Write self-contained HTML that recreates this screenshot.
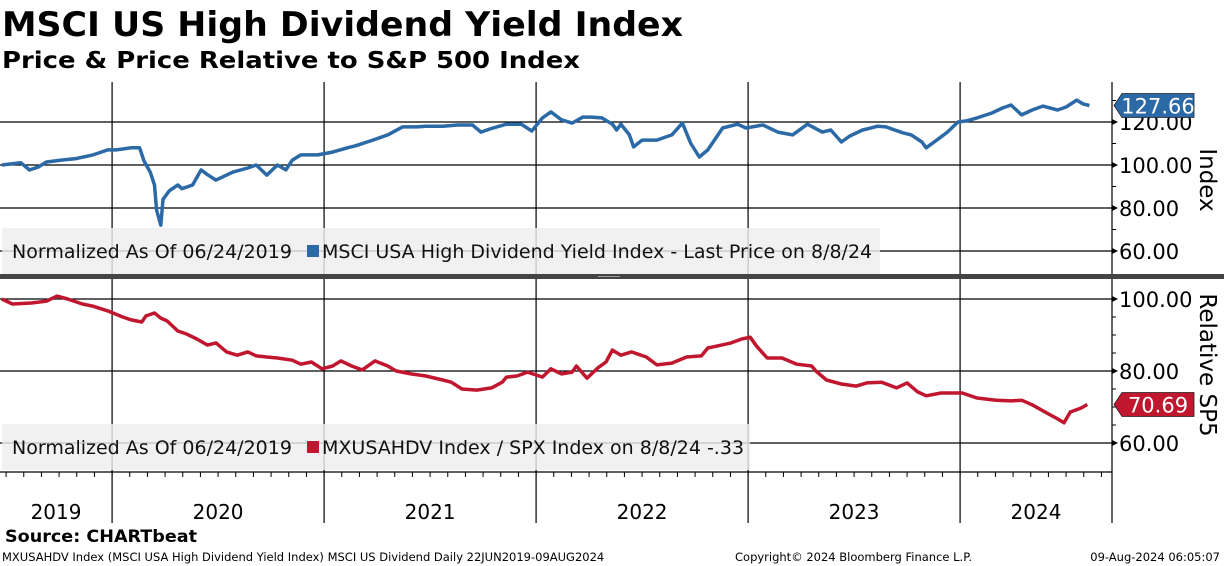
<!DOCTYPE html>
<html><head><meta charset="utf-8"><style>
body{margin:0;width:1224px;height:566px;background:#fff;overflow:hidden;font-family:"Liberation Sans",sans-serif}
svg{position:absolute;left:0;top:0}
text{font-family:"DejaVu Sans","Liberation Sans",sans-serif}
</style></head><body>
<svg width="1224" height="566" id="c"></svg>
<script>
const topDates=[2019.48,2019.57,2019.61,2019.65,2019.69,2019.76,2019.83,2019.91,2019.98,2020.02,2020.09,2020.13,2020.15,2020.18,2020.20,2020.21,2020.23,2020.24,2020.27,2020.31,2020.33,2020.38,2020.42,2020.45,2020.49,2020.57,2020.64,2020.68,2020.73,2020.78,2020.82,2020.85,2020.89,2020.97,2021.04,2021.11,2021.15,2021.23,2021.30,2021.37,2021.44,2021.48,2021.56,2021.63,2021.70,2021.74,2021.79,2021.86,2021.93,2021.98,2022.03,2022.07,2022.12,2022.17,2022.22,2022.26,2022.31,2022.36,2022.38,2022.40,2022.44,2022.46,2022.50,2022.57,2022.64,2022.69,2022.73,2022.77,2022.81,2022.88,2022.95,2022.99,2023.07,2023.14,2023.21,2023.28,2023.35,2023.39,2023.44,2023.48,2023.54,2023.61,2023.65,2023.73,2023.77,2023.82,2023.84,2023.89,2023.94,2023.99,2024.03,2024.08,2024.15,2024.20,2024.24,2024.29,2024.34,2024.39,2024.46,2024.50,2024.55,2024.58,2024.61];
const topValues=[100,101,97.7,99,101.4,102.3,103,104.7,107,107,108,108,102,96.7,90.7,79,72,84,88,90.7,89,90.7,97.7,95.5,93,96.7,98.6,100,95.3,100,97.7,102.3,104.7,104.7,106,108,109,111.6,114,117.7,117.7,118,118,118.6,118.6,115.3,117,119,119,115.8,121.9,124.7,121,119.5,122.3,122.3,121.9,119,116.3,119,114,108.4,111.6,111.6,114,119.5,110,103.7,107,117.2,119,117.2,118.6,115.3,114,119,115.3,116.3,110.7,113.5,116.3,118,117.7,115,114,110.7,108,111.6,115.3,120,120.5,121.9,124.2,126.5,127.9,123.3,125.6,127.4,125.6,127,130.2,128.4,127.66];
const relDates=[2019.48,2019.53,2019.62,2019.69,2019.74,2019.79,2019.86,2019.91,2019.98,2020.05,2020.09,2020.14,2020.16,2020.20,2020.23,2020.26,2020.31,2020.35,2020.40,2020.45,2020.49,2020.54,2020.59,2020.64,2020.68,2020.73,2020.78,2020.85,2020.89,2020.94,2020.99,2021.04,2021.08,2021.13,2021.18,2021.24,2021.30,2021.34,2021.41,2021.48,2021.56,2021.60,2021.65,2021.72,2021.79,2021.84,2021.86,2021.91,2021.96,2022.03,2022.07,2022.12,2022.17,2022.19,2022.24,2022.29,2022.33,2022.36,2022.40,2022.45,2022.52,2022.57,2022.64,2022.71,2022.78,2022.81,2022.85,2022.92,2022.97,2023.01,2023.04,2023.09,2023.16,2023.23,2023.30,2023.32,2023.37,2023.44,2023.51,2023.56,2023.63,2023.70,2023.75,2023.80,2023.84,2023.91,2024.01,2024.08,2024.17,2024.24,2024.29,2024.34,2024.41,2024.46,2024.49,2024.52,2024.57,2024.60];
const relValues=[100,98.6,98.9,99.4,100.8,100,98.6,98,96.7,95,94.2,93.6,95.3,96.1,94.7,93.9,91.1,90.3,88.9,87.2,87.8,85.3,84.4,85.3,84.2,83.9,83.6,83,81.9,82.5,80.6,81.4,82.8,81.4,80.3,82.8,81.4,80,79.2,78.6,77.5,76.9,75,74.7,75.3,76.9,78.3,78.6,79.7,78.3,80.6,79.2,79.7,81.4,78,80.8,82.5,85.8,84.4,85.3,83.9,81.7,82.2,83.9,84.2,86.4,86.9,87.8,88.9,89.4,86.9,83.6,83.6,81.9,81.4,80,77.5,76.4,75.8,76.7,76.9,75.3,76.7,74.2,73.1,73.9,73.9,72.5,71.9,71.7,71.9,70.6,68.3,66.7,65.6,68.6,69.7,70.69];
const years=[2019,2020,2021,2022,2023,2024];
const topTicks=[120,100,80,60];
const relTicks=[100,80,60];

const NS='http://www.w3.org/2000/svg';
const svg=document.getElementById('c');
function el(t,a,p){const e=document.createElementNS(NS,t);for(const k in a)e.setAttribute(k,a[k]);(p||svg).appendChild(e);return e;}
const xOf=t=>1+(t-2019.476)*212;
const yTop=v=>165-(v-100)*2.15;
const yRel=v=>299-(v-100)*3.6;
const R=1112;

let e=el('text',{x:2,y:36,'font-size':34,'font-weight':'bold',fill:'#000',textLength:681,lengthAdjust:'spacingAndGlyphs'});e.textContent='MSCI US High Dividend Yield Index';

e=el('text',{x:2,y:68,'font-size':23,'font-weight':'bold',fill:'#000',textLength:578,lengthAdjust:'spacingAndGlyphs'});e.textContent='Price & Price Relative to S&P 500 Index';


topTicks.forEach(v=>{const g=el('line',{x1:0,x2:R,y1:yTop(v),y2:yTop(v),stroke:'#000','stroke-width':1.3});

const t=el('text',{x:1119,y:yTop(v)+8,'font-size':21,fill:'#000'});t.textContent=v.toFixed(2);

el('path',{d:`M${R} ${yTop(v)-3}L${R+6} ${yTop(v)}L${R} ${yTop(v)+3}Z`,fill:'#000'});});
relTicks.forEach(v=>{const g=el('line',{x1:0,x2:R,y1:yRel(v),y2:yRel(v),stroke:'#000','stroke-width':1.3});

const t=el('text',{x:1119,y:yRel(v)+8,'font-size':21,fill:'#000'});t.textContent=v.toFixed(2);

el('path',{d:`M${R} ${yRel(v)-3}L${R+6} ${yRel(v)}L${R} ${yRel(v)+3}Z`,fill:'#000'});});
for(let v=50;v<=130;v+=10){const y=yTop(v);if(y>84&&y<272)el('line',{x1:R,x2:R+4,y1:y,y2:y,stroke:'#000'});}
for(let v=60;v<=105;v+=5){const y=yRel(v);if(y>284&&y<470)el('line',{x1:R,x2:R+4,y1:y,y2:y,stroke:'#000'});}

years.slice(1).forEach(yv=>{const x=xOf(yv);const l=el('line',{x1:x,x2:x,y1:82,y2:523,stroke:'#000','stroke-width':1.2});
});
el('line',{x1:R,x2:R,y1:82,y2:523,stroke:'#000','stroke-width':1.2});
el('line',{x1:0,x2:R,y1:472,y2:472,stroke:'#000','stroke-width':1.2});
for(let m=0;m<64;m++){const t=2019.5+m/12;const x=xOf(t);if(x>0&&x<R)el('line',{x1:x,x2:x,y1:472,y2:477,stroke:'#000'});}
years.forEach(yv=>{const a=Math.max(xOf(yv),0),b=Math.min(xOf(yv+1),R);const x=yv===2024?1036:(a+b)/2;
const t=el('text',{x:x,y:519,'font-size':20,fill:'#000','text-anchor':'middle'});t.textContent=yv;
});

function line(d,v,yf,col,name){let p='';const n=Math.min(d.length,v.length);
for(let i=0;i<n;i++)p+=(i?'L':'M')+xOf(d[i]).toFixed(1)+' '+yf(v[i]).toFixed(1);
const l=el('path',{d:p,fill:'none',stroke:col,'stroke-width':3.5,'stroke-linejoin':'round'});
}
line(topDates,topValues,yTop,'#2b6aa6','price-line');
line(relDates,relValues,yRel,'#c0172f','relative-line');

function legend(y,w,col,txt,name){const g=el('g',{});
el('rect',{x:2,y:y,width:w,height:46,fill:'rgba(238,238,238,0.82)'},g);
let t=el('text',{x:12,y:y+30,'font-size':19,fill:'#111'},g);t.textContent='Normalized As Of 06/24/2019';
el('rect',{x:307,y:y+17,width:12,height:12,fill:col},g);
t=el('text',{x:322,y:y+30,'font-size':19,fill:'#111'},g);t.textContent=txt;}
legend(228,878,'#2b6aa6','MSCI USA High Dividend Yield Index - Last Price on 8/8/24','top-legend');
legend(424,748,'#c0172f','MXUSAHDV Index / SPX Index on 8/8/24 -.33','relative-legend');

el('rect',{x:0,y:274,width:1224,height:5,fill:'#444'});
el('line',{x1:598,x2:620,y1:276.5,y2:276.5,stroke:'#999','stroke-width':1});

function tag(v,yf,col,name){const y=yf(v);const g=el('g',{});
el('path',{d:`M1114 ${y}L1122 ${y-12}L1194 ${y-12}L1194 ${y+12}L1122 ${y+12}Z`,fill:col,stroke:'#222','stroke-width':0.8},g);
const t=el('text',{x:1158,y:y+8,'font-size':21,fill:'#fff','text-anchor':'middle'},g);t.textContent=v.toFixed(2);}
tag(topValues[topValues.length-1],yTop,'#2b6aa6','price-last-value-tag');
tag(relValues[relValues.length-1],yRel,'#c0172f','relative-last-value-tag');

e=el('text',{x:0,y:0,'font-size':23,fill:'#000','text-anchor':'middle',transform:'translate(1200,180) rotate(90)'});e.textContent='Index';

e=el('text',{x:0,y:0,'font-size':23,fill:'#000','text-anchor':'middle',transform:'translate(1200,365) rotate(90)'});e.textContent='Relative SP5';


e=el('text',{x:5,y:542,'font-size':17,'font-weight':'bold',fill:'#000',textLength:192,lengthAdjust:'spacingAndGlyphs'});e.textContent='Source: CHARTbeat';

e=el('text',{x:2,y:561,'font-size':11.5,fill:'#000'});e.textContent='MXUSAHDV Index (MSCI USA High Dividend Yield Index) MSCI US Dividend  Daily 22JUN2019-09AUG2024';

e=el('text',{x:735,y:561,'font-size':11.5,fill:'#000'});e.textContent='Copyright© 2024 Bloomberg Finance L.P.';

e=el('text',{x:1220,y:561,'font-size':11.5,fill:'#000','text-anchor':'end'});e.textContent='09-Aug-2024 06:05:07';

</script>
</body></html>
